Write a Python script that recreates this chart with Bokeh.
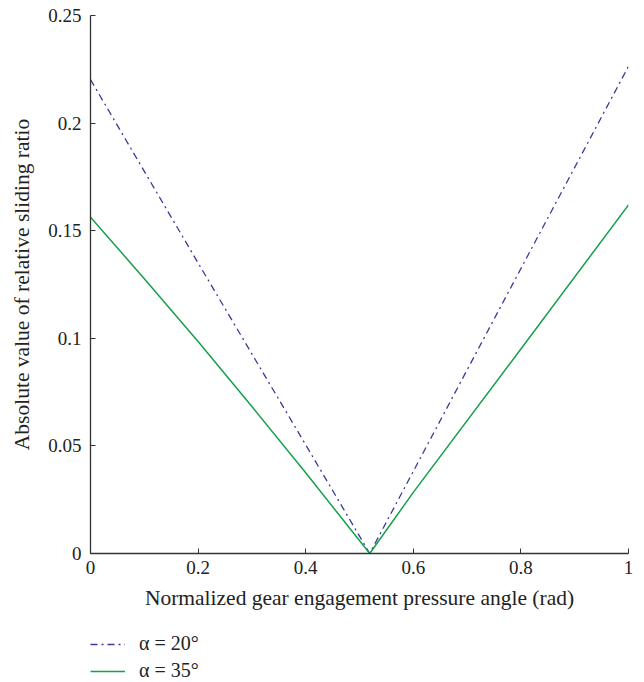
from bokeh.plotting import figure
from bokeh.layouts import column
from bokeh.models import Legend, LegendItem, Range1d, FixedTicker
from bokeh.embed import file_html
from bokeh.resources import INLINE

# data
x_a20 = [0.0, 0.2, 0.4, 0.519, 0.6, 0.8, 1.0]
y_a20 = [0.2202, 0.1350, 0.0505, 0.0, 0.0382, 0.1324, 0.2264]
x_a35 = [0.0, 0.1, 0.2, 0.3, 0.4, 0.519, 0.6, 0.8, 1.0]
y_a35 = [0.1563, 0.1277, 0.0985, 0.0683, 0.0375, 0.0, 0.0284, 0.0950, 0.1620]
labels = ["α = 20°", "α = 35°"]
x_ticks = [0, 0.2, 0.4, 0.6, 0.8, 1]
y_ticks = [0, 0.05, 0.1, 0.15, 0.2, 0.25]

FONT = "Liberation Serif"
TICK_FS = "19px"
LABEL_FS = "21.5px"
BLUE = "#3a3a98"
GREEN = "#14a04c"
BLUE_DASH = "7 4 2 4"

p = figure(width=640, height=620, output_backend="svg", toolbar_location=None,
           x_range=Range1d(0, 1), y_range=Range1d(0, 0.25),
           min_border_left=90, min_border_right=12, min_border_top=15,
           min_border_bottom=67)
p.outline_line_color = None
p.grid.visible = False
p.background_fill_color = "white"
p.border_fill_color = "white"

r1 = p.line(x_a20, y_a20, line_color=BLUE, line_width=1.3, line_dash=BLUE_DASH)
r2 = p.line(x_a35, y_a35, line_color=GREEN, line_width=1.5)

for ax in (p.xaxis[0], p.yaxis[0]):
    ax.axis_line_color = "#333333"
    ax.axis_line_width = 1.3
    ax.major_tick_in = 5
    ax.major_tick_out = 0
    ax.minor_tick_in = 0
    ax.minor_tick_out = 0
    ax.major_tick_line_color = "#333333"
    ax.major_label_text_font = FONT
    ax.major_label_text_font_size = TICK_FS
    ax.major_label_text_color = "#222222"
    ax.axis_label_text_font = FONT
    ax.axis_label_text_font_size = LABEL_FS
    ax.axis_label_text_font_style = "normal"
    ax.axis_label_text_color = "#222222"

p.xaxis.ticker = FixedTicker(ticks=x_ticks)
p.yaxis.ticker = FixedTicker(ticks=y_ticks)
p.xaxis.major_label_overrides = {0: "0", 0.2: "0.2", 0.4: "0.4", 0.6: "0.6", 0.8: "0.8", 1: "1"}
p.yaxis.major_label_overrides = {0: "0", 0.05: "0.05", 0.1: "0.1", 0.15: "0.15", 0.2: "0.2", 0.25: "0.25"}
p.xaxis.axis_label = "Normalized gear engagement pressure angle (rad)"
p.yaxis.axis_label = "Absolute value of relative sliding ratio"
p.xaxis.major_label_standoff = 7
p.xaxis.axis_label_standoff = 9
p.yaxis.major_label_standoff = 9
p.yaxis.axis_label_standoff = 11

# legend drawn in a small figure below the chart (proxy lines hold no visible points)
q = figure(width=640, height=62, output_backend="svg", toolbar_location=None,
           x_range=Range1d(0, 1), y_range=Range1d(0, 1),
           min_border_left=90, min_border_right=12, min_border_top=0,
           min_border_bottom=0)
q.axis.visible = False
q.grid.visible = False
q.outline_line_color = None
q.border_fill_color = "white"
nan = float("nan")
l1 = q.line(x=[nan, nan], y=[nan, nan], line_color=BLUE, line_width=1.3, line_dash=BLUE_DASH)
l2 = q.line(x=[nan, nan], y=[nan, nan], line_color=GREEN, line_width=1.5)

legend = Legend(items=[LegendItem(label=labels[0], renderers=[l1]),
                       LegendItem(label=labels[1], renderers=[l2])],
                location=(0, 0), orientation="vertical")
legend.border_line_color = None
legend.background_fill_alpha = 0
legend.margin = 0
legend.padding = 0
legend.spacing = 4
legend.glyph_width = 35
legend.glyph_height = 20
legend.label_height = 20
legend.label_standoff = 14
legend.label_text_font = FONT
legend.label_text_font_size = "20px"
legend.label_text_color = "#222222"
q.add_layout(legend, "center")

layout = column(p, q, spacing=0)
open("out.html", "w").write(file_html(layout, INLINE))
